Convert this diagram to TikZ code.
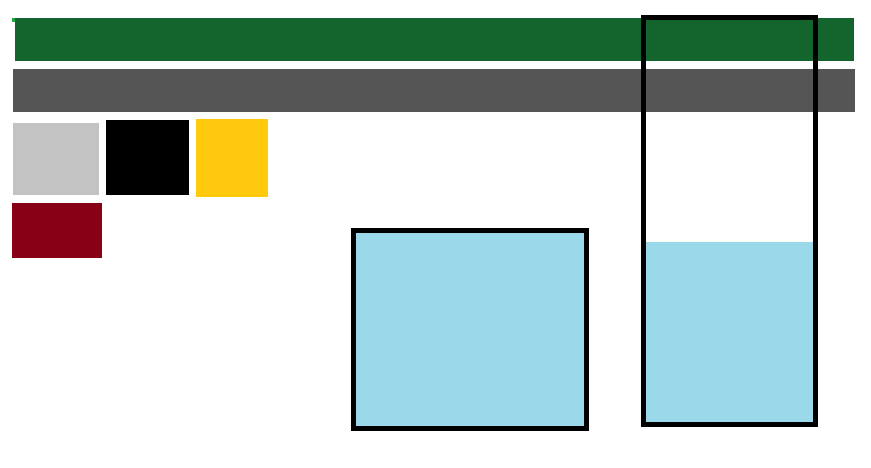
\documentclass[tikz,border=0pt]{standalone}
\definecolor{bargreen}{HTML}{14642E}
\definecolor{dotgreen}{HTML}{22A845}
\definecolor{bargray}{HTML}{555555}
\definecolor{lightgray}{HTML}{C3C3C3}
\definecolor{sunyellow}{HTML}{FFC90E}
\definecolor{darkred}{HTML}{880015}
\definecolor{waterblue}{HTML}{99D9EA}
\tikzset{
  frame/.style={draw=black, line width=5pt},
  swatch/.style={draw=none}
}
\begin{document}
\begin{tikzpicture}[x=1pt,y=-1pt]
\useasboundingbox (0,0) rectangle (871,468);
% bars
\fill[dotgreen] (12,18) rectangle (16,22);
\fill[bargreen] (15,18) rectangle (854,61);
\fill[bargray] (13,69) rectangle (855,112);
% swatches
\fill[lightgray] (13,123) rectangle (99,195);
\fill[black] (106,120) rectangle (189,195);
\fill[sunyellow] (196,119) rectangle (268,197);
\fill[darkred] (12,203) rectangle (102,258);
% middle box
\filldraw[frame, fill=waterblue] (353.5,230.5) rectangle (586.5,428.5);
% tall box
\fill[waterblue] (643.5,242) rectangle (815.5,424.5);
\draw[frame] (643.5,17.5) rectangle (815.5,424.5);
\end{tikzpicture}
\end{document}
